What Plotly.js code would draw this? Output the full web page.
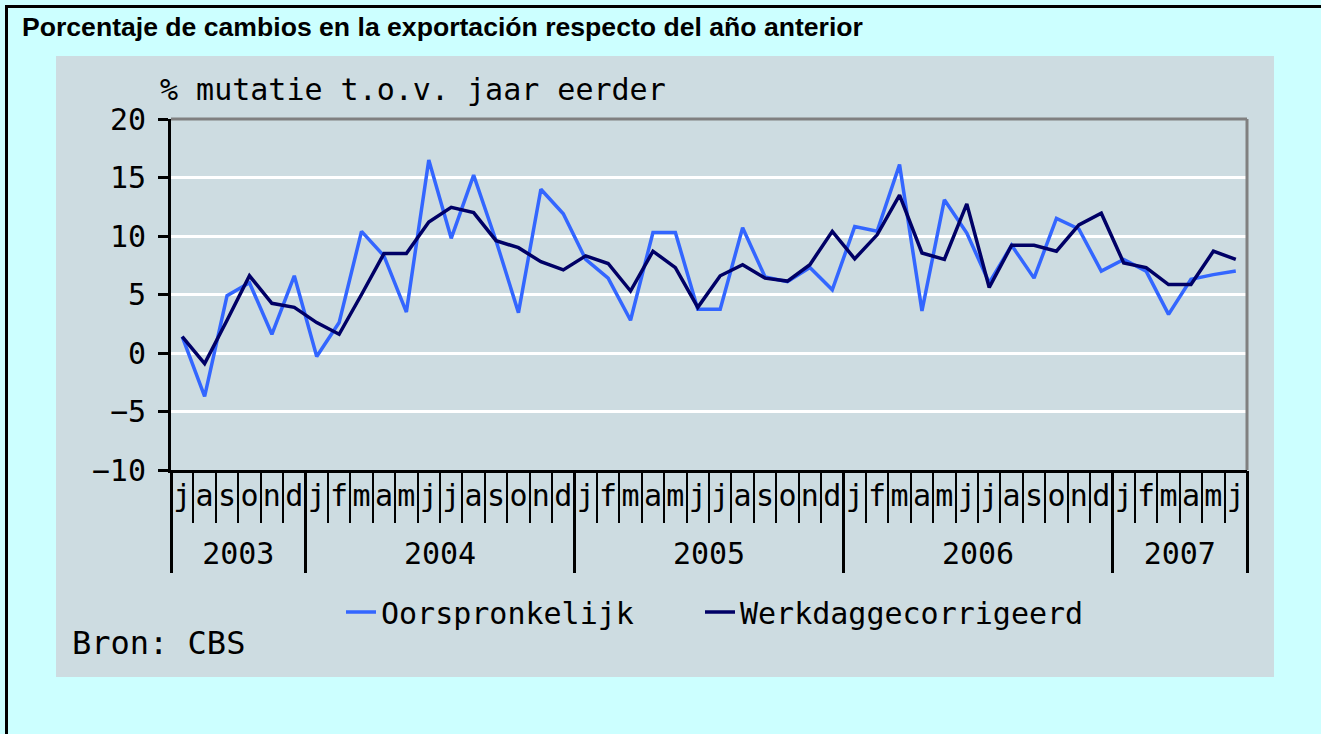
<!DOCTYPE html>
<html>
<head>
<meta charset="utf-8">
<script src="https://cdn.plot.ly/plotly-3.0.1.min.js"></script>
<style>
  html, body { margin: 0; padding: 0; background: #CCFFFF; overflow: hidden; }
  #chart { width: 1321px; height: 734px; }
</style>
</head>
<body>
<div id="chart"></div>
<script>
// ---- data ----
const monthLabels = [
  'j','a','s','o','n','d',
  'j','f','m','a','m','j','j','a','s','o','n','d',
  'j','f','m','a','m','j','j','a','s','o','n','d',
  'j','f','m','a','m','j','j','a','s','o','n','d',
  'j','f','m','a','m','j'
];
const yearLabels = ['2003','2004','2005','2006','2007'];
const monthsInYear = [6, 12, 12, 12, 6];

const oorspronkelijk = [
  1.4, -3.7, 4.9, 6.0, 1.6, 6.6,
  -0.3, 2.6, 10.4, 8.3, 3.5, 16.5, 9.8, 15.2, 9.6, 3.45, 14.0, 11.9,
  8.0, 6.4, 2.8, 10.3, 10.3, 3.75, 3.75, 10.7, 6.5, 6.1, 7.3, 5.4,
  10.8, 10.4, 16.1, 3.6, 13.1, 10.25, 6.0, 9.2, 6.4, 11.5, 10.6, 7.0,
  8.0, 7.0, 3.3, 6.3, 6.7, 7.0
];
const werkdaggecorrigeerd = [
  1.4, -0.9, 2.8, 6.6, 4.25, 3.9,
  2.6, 1.6, 5.0, 8.5, 8.5, 11.2, 12.45, 12.0, 9.6, 9.0, 7.8, 7.1,
  8.3, 7.65, 5.3, 8.7, 7.3, 3.9, 6.6, 7.55, 6.4, 6.15, 7.55, 10.4,
  8.05, 10.1, 13.5, 8.55, 8.0, 12.75, 5.6, 9.2, 9.2, 8.7, 10.95, 11.95,
  7.7, 7.3, 5.85, 5.85, 8.7, 8.0
];
const seriesNames = ['Oorspronkelijk', 'Werkdaggecorrigeerd'];
const titleText = 'Porcentaje de cambios en la exportación respecto del año anterior';
const unitText = '% mutatie t.o.v. jaar eerder';
const sourceText = 'Bron: CBS';

// ---- derived axis helpers ----
const idx = monthLabels.map((_, i) => i);
const monthBounds = monthLabels.map((_, i) => i - 0.5).concat([monthLabels.length - 0.5]);
const yearBounds = [-0.5];
const yearCenters = [];
let acc = -0.5;
monthsInYear.forEach(n => { yearCenters.push(acc + n / 2); acc += n; yearBounds.push(acc); });
const xRange = [-0.5, monthLabels.length - 0.5];

const MONO = 'DejaVu Sans Mono, monospace';
const PANEL = '#CDDCE1';

const traces = [
  { x: idx, y: oorspronkelijk, name: seriesNames[0], type: 'scatter', mode: 'lines',
    line: { color: '#3366FF', width: 3.5 }, hoverinfo: 'skip', legend: 'legend' },
  { x: idx, y: werkdaggecorrigeerd, name: seriesNames[1], type: 'scatter', mode: 'lines',
    line: { color: '#000066', width: 3.5 }, hoverinfo: 'skip', legend: 'legend2' },
  // empty carriers so that the overlay axes (year ticks, month & year labels) are drawn
  { x: [], y: [], xaxis: 'x2', type: 'scatter', mode: 'lines', showlegend: false, hoverinfo: 'skip' },
  { x: [], y: [], xaxis: 'x3', type: 'scatter', mode: 'lines', showlegend: false, hoverinfo: 'skip' },
  { x: [], y: [], xaxis: 'x4', type: 'scatter', mode: 'lines', showlegend: false, hoverinfo: 'skip' }
];

// plot area in pixels: x 171..1247, y 119..470
const L = 171, R = 74, T = 119, B = 264, W = 1321, H = 734;
const pw = W - L - R, ph = H - T - B;
const px = v => (v - L) / pw;
const py = v => (H - B - v) / ph;

const legendStyle = (x) => ({
  orientation: 'h', x: px(x), xanchor: 'left', y: py(612), yanchor: 'middle',
  font: { family: MONO, size: 30, color: '#000' }, bgcolor: 'rgba(0,0,0,0)',
  itemclick: false, itemdoubleclick: false
});

const layout = {
  width: W, height: H,
  margin: { l: L, r: R, t: T, b: B },
  paper_bgcolor: '#CCFFFF',
  plot_bgcolor: PANEL,
  showlegend: true,
  title: {
    text: '<b>' + titleText + '</b>',
    xref: 'container', yref: 'container',
    x: 22 / W, xanchor: 'left',
    y: 1 - 27 / H, yanchor: 'middle',
    font: { family: 'Liberation Sans, Arial, sans-serif', size: 26.6, color: '#000' }
  },
  xaxis: {
    range: xRange, tickmode: 'array', tickvals: monthBounds,
    ticks: 'outside', ticklen: 50, tickwidth: 2, tickcolor: '#000',
    showticklabels: false, showline: true, linecolor: '#000', linewidth: 3,
    showgrid: false, zeroline: false, fixedrange: true
  },
  xaxis2: {
    overlaying: 'x', anchor: 'y', range: xRange, tickmode: 'array', tickvals: yearBounds,
    ticks: 'outside', ticklen: 102, tickwidth: 3, tickcolor: '#000',
    showticklabels: false, showline: false, showgrid: false, zeroline: false, fixedrange: true
  },
  xaxis3: {
    overlaying: 'x', anchor: 'y', range: xRange, tickmode: 'array',
    tickvals: idx, ticktext: monthLabels, ticks: '', ticklabelstandoff: 5,
    tickfont: { family: MONO, size: 30, color: '#000' },
    showline: false, showgrid: false, zeroline: false, fixedrange: true
  },
  xaxis4: {
    overlaying: 'x', anchor: 'y', range: xRange, tickmode: 'array',
    tickvals: yearCenters, ticktext: yearLabels, ticks: '', ticklabelstandoff: 63,
    tickfont: { family: MONO, size: 30, color: '#000' },
    showline: false, showgrid: false, zeroline: false, fixedrange: true
  },
  yaxis: {
    range: [-10, 20], tick0: -10, dtick: 5, tickmode: 'linear',
    ticks: 'outside', ticklen: 10, tickwidth: 3, tickcolor: '#000',
    showline: true, linecolor: '#000', linewidth: 3, ticklabelstandoff: 6,
    showgrid: true, gridcolor: '#FFFFFF', gridwidth: 3, zeroline: false,
    tickfont: { family: MONO, size: 30, color: '#000' }, fixedrange: true
  },
  legend: legendStyle(341),
  legend2: legendStyle(700),
  annotations: [
    { text: unitText, xref: 'paper', yref: 'paper', x: px(158), y: py(90),
      xanchor: 'left', yanchor: 'middle', showarrow: false,
      font: { family: MONO, size: 30, color: '#000' } },
    { text: sourceText, xref: 'paper', yref: 'paper', x: px(70), y: py(643),
      xanchor: 'left', yanchor: 'middle', showarrow: false,
      font: { family: MONO, size: 32, color: '#000' } }
  ],
  shapes: [
    { type: 'rect', xref: 'paper', yref: 'paper', x0: px(56), x1: px(1274), y0: py(677), y1: py(56),
      fillcolor: PANEL, line: { width: 0 }, layer: 'below' },
    { type: 'line', xref: 'paper', yref: 'paper', x0: 0, x1: 1, y0: 1, y1: 1,
      line: { color: '#808080', width: 3 }, layer: 'above' },
    { type: 'line', xref: 'paper', yref: 'paper', x0: 1, x1: 1, y0: 0, y1: 1,
      line: { color: '#808080', width: 3 }, layer: 'above' },
    { type: 'line', xref: 'paper', yref: 'paper', x0: px(6.5), x1: px(6.5), y0: py(6), y1: py(760),
      line: { color: '#000', width: 3 }, layer: 'above' },
    { type: 'line', xref: 'paper', yref: 'paper', x0: px(5), x1: px(1340), y0: py(6.5), y1: py(6.5),
      line: { color: '#000', width: 3 }, layer: 'above' }
  ]
};

Plotly.newPlot('chart', traces, layout, { displayModeBar: false, staticPlot: true });
</script>
</body>
</html>
